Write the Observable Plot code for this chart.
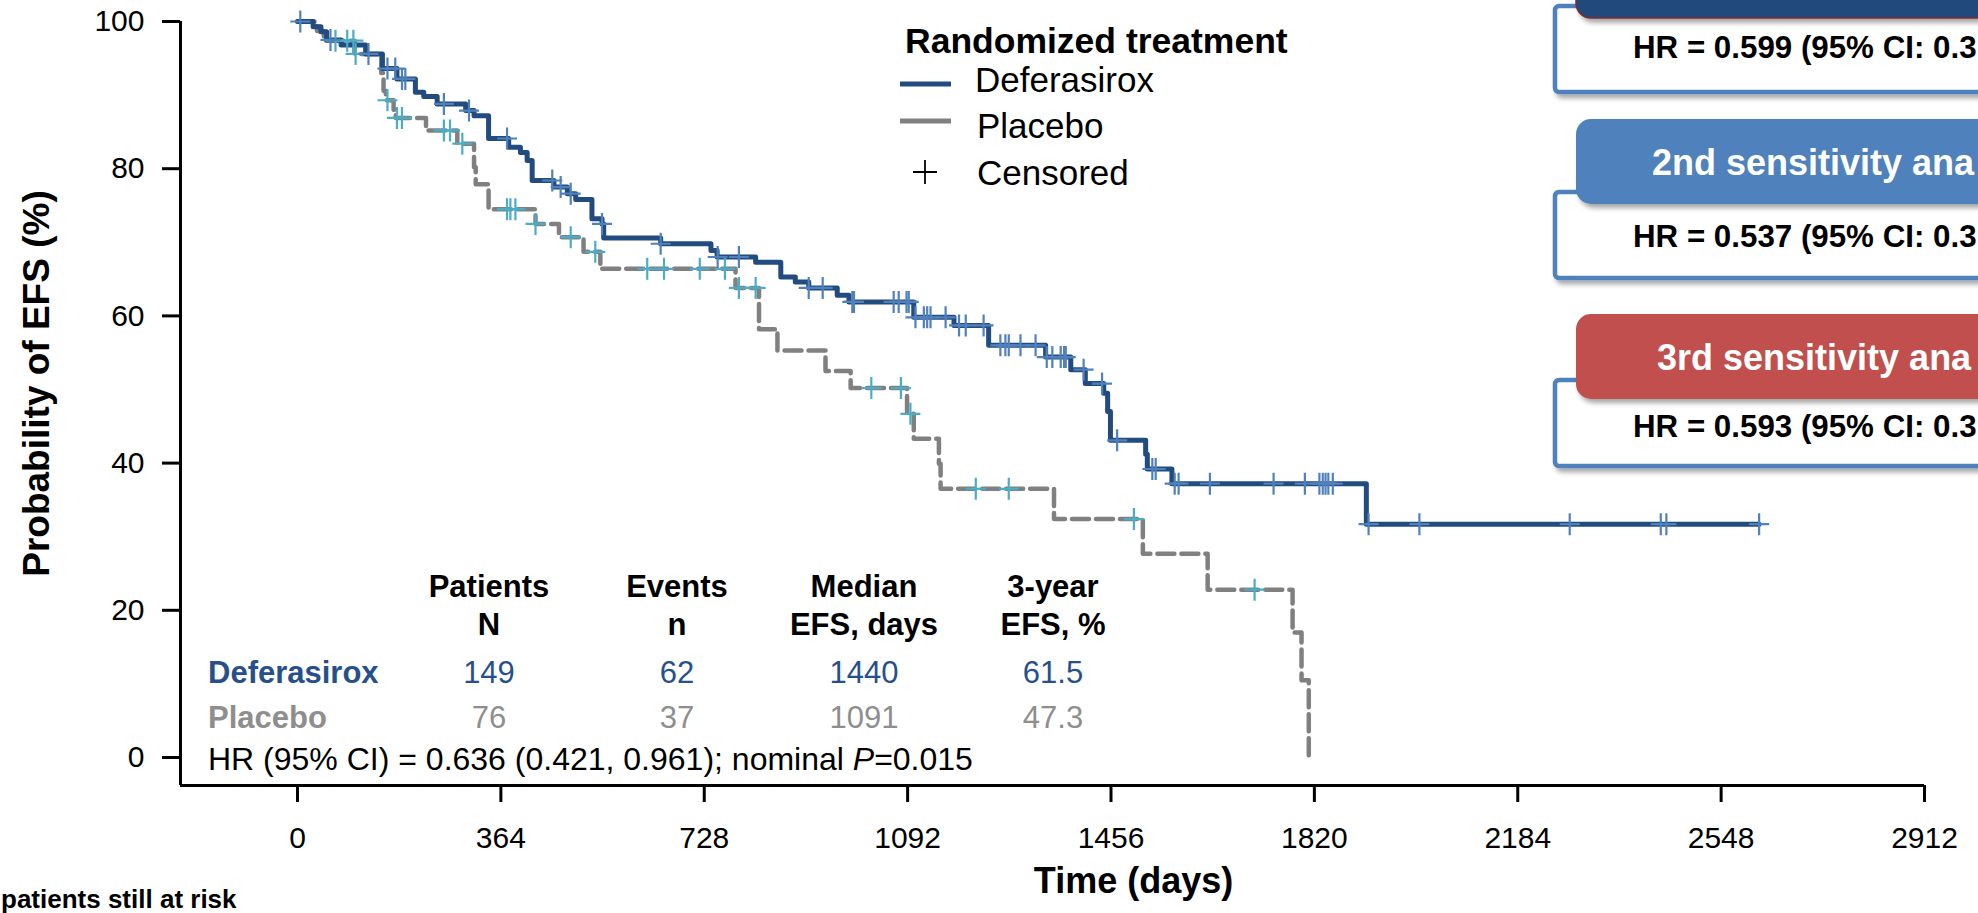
<!DOCTYPE html>
<html><head><meta charset="utf-8">
<script src="https://cdn.jsdelivr.net/npm/d3@7"></script>
<script src="https://cdn.jsdelivr.net/npm/@observablehq/plot@0.6"></script>
<style>
html,body{margin:0;padding:0;background:#fff;overflow:hidden;}
#wrap{position:relative;width:1978px;height:913px;overflow:hidden;}
#wrap svg{position:absolute;left:0;top:0;}
</style></head><body><div id="wrap"></div>
<script>
// ---------- data ----------
const xTicks = [0, 364, 728, 1092, 1456, 1820, 2184, 2548, 2912];
const yTicks = [0, 20, 40, 60, 80, 100];

const defTimes = [0,28,42,52,78,122,152,178,211,226,250,301,316,342,378,399,411,420,459,483,498,527,545,548,650,740,751,820,865,891,915,966,987,1103,1175,1237,1339,1384,1410,1443,1450,1455,1518,1521,1565,1913,2616];
const defSurv  = [100,99.3,98.6,97.5,96.8,95.6,93.6,92.2,90.4,89.8,88.8,87.9,87.2,84.1,82.9,82.2,81.1,78.4,77.5,76.6,75.8,73.2,72.5,70.6,69.8,68.9,68.0,67.3,65.3,64.6,63.8,62.8,61.9,59.8,58.7,56.0,54.4,52.7,50.8,49.5,47.0,43.1,41.2,39.2,37.2,31.7,31.7];

const plaTimes = [0,35,47,102,150,154,158,172,176,230,286,316,319,342,426,468,512,542,784,826,859,945,990,1091,1103,1148,1151,1354,1513,1629,1781,1797,1810];
const plaSurv  = [100,98.7,97.4,95.6,93.0,90.6,89.3,88.0,86.9,85.2,83.4,80.2,77.9,74.5,72.5,70.7,68.7,66.4,63.8,58.2,55.3,52.5,50.2,46.7,43.3,39.9,36.5,32.4,27.7,22.8,17.0,10.5,0];

const defCensored = [5,59,127,161,175,187,193,262,307,375,456,471,489,545,650,752,790,915,940,993,996,1067,1076,1090,1094,1106,1121,1127,1133,1160,1184,1196,1228,1258,1267,1273,1294,1321,1341,1351,1366,1372,1375,1407,1440,1467,1530,1536,1570,1577,1633,1747,1803,1829,1835,1840,1845,1853,1917,2008,2277,2440,2450,2616];
const plaCensored = [68,89,100,104,161,178,187,262,273,295,375,381,390,426,489,533,626,656,720,765,790,820,1027,1080,1097,1214,1273,1497,1713];

const groups = ["Deferasirox", "Placebo"];
const tableHeadTop = ["Patients", "Events", "Median", "3-year"];
const tableHeadBottom = ["N", "n", "EFS, days", "EFS, %"];
const defRow = ["149", "62", "1440", "61.5"];
const plaRow = ["76", "37", "1091", "47.3"];
const hrText = ["HR (95% CI) = 0.636 (0.421, 0.961); nominal ", "P", "=0.015"];
const boxHeaders = ["", "2nd sensitivity ana", "3rd sensitivity ana"];
const boxBodies = ["HR = 0.599 (95% CI: 0.3", "HR = 0.537 (95% CI: 0.3", "HR = 0.593 (95% CI: 0.3"];
const legendTitle = "Randomized treatment";
const legendItems = ["Deferasirox", "Placebo", "Censored"];
const atRiskCaption = "patients still at risk";

// ---------- style ----------
const FONT = '"Liberation Sans", Arial, Helvetica, sans-serif';
const NAVY = "#224b7f", LBLUE = "#4f81bd", CYAN = "#4bacc6", GRAY = "#808080";
const TBLUE = "#26508b", TGRAY = "#8e8e8e";
const boxColors = ["#234a7c", "#4f81bd", "#c0504d"];

// ---------- build tables ----------
const defer = defTimes.map((t, i) => ({t, s: defSurv[i]}));
const placebo = plaTimes.map((t, i) => ({t, s: plaSurv[i]}));
const lookup = (times, surv) => t => { let v = surv[0]; for (let i = 0; i < times.length; i++) if (times[i] <= t) v = surv[i]; return v; };
const defAt = lookup(defTimes, defSurv), plaAt = lookup(plaTimes, plaSurv);
const defCens = defCensored.map(t => ({t, s: defAt(t)}));
const plaCens = plaCensored.map(t => ({t, s: plaAt(t)}));

const plusSymbol = {draw(ctx) { ctx.moveTo(-10, 0); ctx.lineTo(10, 0); ctx.moveTo(0, -11); ctx.lineTo(0, 11); }};

// axis frame (R-style offset axes)
const W = 1978, H = 913;
const mLeft = 180, mRight = 54, mTop = 21, mBottom = 128;
const x0px = 297, y0px = 757;
const kx = (W - mRight - x0px) / xTicks[xTicks.length - 1];
const ky = (y0px - mTop) / 100;
const xStart = -(x0px - mLeft) / kx;
const yStart = -(H - mBottom - y0px) / ky;
const xEnd = xTicks[xTicks.length - 1];

const chart = Plot.plot({
  width: W, height: H,
  marginLeft: mLeft, marginRight: mRight, marginTop: mTop, marginBottom: mBottom,
  x: {domain: [xStart, xEnd], label: null},
  y: {domain: [yStart, 100], label: null},
  style: {fontFamily: FONT, color: "#000", background: "transparent", overflow: "visible"},
  marks: [
    Plot.axisY(yTicks, {anchor: "left", tickSize: 18, tickPadding: 18, fontSize: 30, strokeWidth: 3, label: null, tickFormat: d => `${d}`}),
    Plot.axisX(xTicks, {anchor: "bottom", tickSize: 17, tickPadding: 24, fontSize: 30, strokeWidth: 3, label: null, tickFormat: d => `${d}`}),
    Plot.ruleX([xStart], {y1: yStart, y2: 100, stroke: "#000", strokeWidth: 3}),
    Plot.ruleY([yStart], {x1: xStart, x2: xEnd, stroke: "#000", strokeWidth: 3}),
    Plot.line(placebo, {x: "t", y: "s", curve: "step-after", stroke: GRAY, strokeWidth: 4.5, strokeDasharray: "17,7"}),
    Plot.line(defer, {x: "t", y: "s", curve: "step-after", stroke: NAVY, strokeWidth: 5}),
    Plot.dot(plaCens, {x: "t", y: "s", symbol: plusSymbol, stroke: CYAN, strokeWidth: 2.2, fill: "none"}),
    Plot.dot(defCens, {x: "t", y: "s", symbol: plusSymbol, stroke: LBLUE, strokeWidth: 2.2, fill: "none"}),
    Plot.text(["Probability of EFS (%)"], {text: d => d, frameAnchor: "left", textAnchor: "middle", dx: -143, dy: -20, rotate: -90, fontSize: 37, fontWeight: "bold", fill: "#000"}),
    Plot.text(["Time (days)"], {text: d => d, frameAnchor: "bottom", textAnchor: "middle", dx: 81, dy: 107, fontSize: 36, fontWeight: "bold", fill: "#000"})
  ]
});
document.getElementById("wrap").appendChild(chart);

// ---------- overlay: legend, table, boxes ----------
const ov = d3.select("#wrap").append("svg").attr("width", W).attr("height", H)
  .style("font-family", FONT).style("pointer-events", "none");
const defs = ov.append("defs");
defs.append("filter").attr("id", "sh").attr("x", "-5%").attr("y", "-20%").attr("width", "115%").attr("height", "150%")
  .append("feDropShadow").attr("dx", 3).attr("dy", 4).attr("stdDeviation", 2.5).attr("flood-color", "#000").attr("flood-opacity", 0.35);

// legend
ov.append("text").attr("x", 905).attr("y", 53).attr("font-size", 35.5).attr("font-weight", "bold").text(legendTitle);
ov.append("line").attr("x1", 900).attr("x2", 951).attr("y1", 84).attr("y2", 84).attr("stroke", NAVY).attr("stroke-width", 5);
ov.append("line").attr("x1", 900).attr("x2", 951).attr("y1", 121).attr("y2", 121).attr("stroke", GRAY).attr("stroke-width", 5);
ov.append("path").attr("d", "M913,172H937M925,160V184").attr("stroke", "#000").attr("stroke-width", 1.8);
[92, 138, 185].forEach((yb, i) => ov.append("text").attr("x", i === 0 ? 975 : 977).attr("y", yb).attr("font-size", 35).text(legendItems[i]));

// table
const cols = [489, 677, 864, 1053];
cols.forEach((cx, i) => {
  ov.append("text").attr("x", cx).attr("y", 597).attr("text-anchor", "middle").attr("font-size", 31).attr("font-weight", "bold").text(tableHeadTop[i]);
  ov.append("text").attr("x", cx).attr("y", 635).attr("text-anchor", "middle").attr("font-size", 31).attr("font-weight", "bold").text(tableHeadBottom[i]);
  ov.append("text").attr("x", cx).attr("y", 683).attr("text-anchor", "middle").attr("font-size", 31).attr("fill", TBLUE).text(defRow[i]);
  ov.append("text").attr("x", cx).attr("y", 728).attr("text-anchor", "middle").attr("font-size", 31).attr("fill", TGRAY).text(plaRow[i]);
});
ov.append("text").attr("x", 208).attr("y", 683).attr("font-size", 31).attr("font-weight", "bold").attr("fill", TBLUE).text(groups[0]);
ov.append("text").attr("x", 208).attr("y", 728).attr("font-size", 31).attr("font-weight", "bold").attr("fill", TGRAY).text(groups[1]);
const hr = ov.append("text").attr("x", 208).attr("y", 770).attr("font-size", 32);
hr.append("tspan").text(hrText[0]);
hr.append("tspan").attr("font-style", "italic").text(hrText[1]);
hr.append("tspan").text(hrText[2]);

// at-risk caption
ov.append("text").attr("x", 1).attr("y", 908).attr("font-size", 26).attr("font-weight", "bold").text(atRiskCaption);

// sensitivity boxes
const bodyTops = [6, 192, 380], headTops = [-67, 119, 314];
const bodyBase = [58, 247, 437], headBase = [-14, 175, 370], headTextX = [1652, 1652, 1657];
[0, 1, 2].forEach(i => {
  ov.append("rect").attr("x", 1555).attr("y", bodyTops[i]).attr("width", 520).attr("height", 86).attr("rx", 4)
    .attr("fill", "#fff").attr("stroke", LBLUE).attr("stroke-width", 4.5).attr("filter", "url(#sh)");
  ov.append("rect").attr("x", 1576).attr("y", headTops[i]).attr("width", 500).attr("height", 85).attr("rx", 15)
    .attr("fill", boxColors[i]).attr("stroke", i === 0 ? "#7d2b2b" : "none").attr("stroke-width", 1.5).attr("filter", "url(#sh)");
  if (boxHeaders[i]) ov.append("text").attr("x", headTextX[i]).attr("y", headBase[i]).attr("font-size", 36).attr("font-weight", "bold").attr("fill", "#fff").text(boxHeaders[i]);
  ov.append("text").attr("x", 1633).attr("y", bodyBase[i]).attr("font-size", 31.3).attr("font-weight", "bold").attr("fill", "#000").text(boxBodies[i]);
});
</script></body></html>
